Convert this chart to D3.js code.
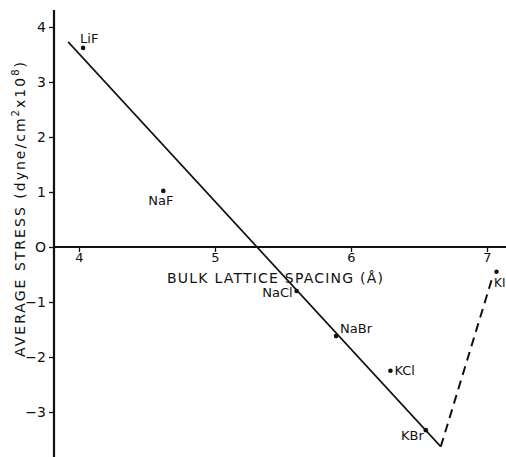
<!DOCTYPE html>
<html>
<head>
<meta charset="utf-8">
<script src="https://cdn.jsdelivr.net/npm/d3@7"></script>
<style>
  body { margin: 0; background: #fff; }
  text { font-family: "DejaVu Sans", sans-serif; fill: #111; }
</style>
</head>
<body>
<div id="chart"></div>
<script>
// crystals and their measured points
var crystals = ["LiF", "NaF", "NaCl", "NaBr", "KCl", "KBr", "KI"];
var spacing = [4.03, 4.62, 5.60, 5.89, 6.29, 6.55, 7.07];
var stress = [3.62, 1.02, -0.80, -1.62, -2.25, -3.33, -0.45];

// fitted line (solid) and the dashed return to KI
var fitX = [3.92, 6.66];
var fitY = [3.73, -3.63];
var dashX = [6.66, 7.04];
var dashY = [-3.63, -0.55];

var xTicks = [4, 5, 6, 7];
var yTicks = [-3, -2, -1, 0, 1, 2, 3, 4];
var yTickLabels = ["\u22123", "\u22122", "\u22121", "O", "1", "2", "3", "4"];

var svgWidth = 506;
var svgHeight = 457;
var axisX = 54;

var svg = d3.select("#chart")
  .append("svg")
  .attr("width", svgWidth)
  .attr("height", svgHeight);

var x = d3.scaleLinear().domain([4, 7]).range([79, 487]);
var y = d3.scaleLinear().domain([-3, 4]).range([412, 27]);

// axis lines
svg.append("line")
  .attr("x1", axisX).attr("x2", axisX)
  .attr("y1", 10).attr("y2", svgHeight)
  .attr("stroke", "#111").attr("stroke-width", 2.2);

svg.append("line")
  .attr("x1", axisX).attr("x2", svgWidth)
  .attr("y1", y(0)).attr("y2", y(0))
  .attr("stroke", "#111").attr("stroke-width", 2);

// x axis ticks
var xAxis = d3.axisBottom(x)
  .tickValues(xTicks)
  .tickSize(5)
  .tickPadding(1)
  .tickFormat(d3.format("d"));

var xg = svg.append("g")
  .attr("transform", "translate(0," + y(0) + ")")
  .call(xAxis);
xg.select(".domain").remove();
xg.selectAll("line").attr("stroke", "#111").attr("stroke-width", 1.3);
xg.selectAll("text")
  .style("font-family", "DejaVu Sans, sans-serif")
  .style("font-size", "13px")
  .attr("fill", "#111");

// y axis ticks
var yAxis = d3.axisLeft(y)
  .tickValues(yTicks)
  .tickSize(5)
  .tickPadding(3)
  .tickFormat(function(d, i) { return yTickLabels[i]; });

var yg = svg.append("g")
  .attr("transform", "translate(" + axisX + ",0)")
  .call(yAxis);
yg.select(".domain").remove();
yg.selectAll("line").attr("stroke", "#111").attr("stroke-width", 1.3);
yg.selectAll("text")
  .style("font-family", "DejaVu Sans, sans-serif")
  .style("font-size", "14px")
  .attr("fill", "#111");

// axis titles
svg.append("text")
  .attr("x", 167)
  .attr("y", 283)
  .style("font-size", "14px")
  .attr("textLength", 216)
  .text("BULK LATTICE SPACING (\u00c5)");

var yTitle = svg.append("text")
  .attr("transform", "translate(25,357)rotate(-90)")
  .style("font-size", "14px")
  .attr("textLength", 295);
yTitle.append("tspan").text("AVERAGE STRESS (dyne/cm");
yTitle.append("tspan").attr("dy", -6).style("font-size", "10px").text("2");
yTitle.append("tspan").attr("dy", 6).text("x10");
yTitle.append("tspan").attr("dy", -6).style("font-size", "10px").text("8");
yTitle.append("tspan").attr("dy", 6).text(")");

// lines
var line = d3.line()
  .x(function(d) { return x(d[0]); })
  .y(function(d) { return y(d[1]); });

svg.append("path")
  .datum(d3.zip(fitX, fitY))
  .attr("d", line)
  .attr("fill", "none")
  .attr("stroke", "#111")
  .attr("stroke-width", 1.6);

svg.append("path")
  .datum(d3.zip(dashX, dashY))
  .attr("d", line)
  .attr("fill", "none")
  .attr("stroke", "#111")
  .attr("stroke-width", 2)
  .attr("stroke-dasharray", "9,6");

// points
var points = crystals.map(function(c, i) {
  return { name: c, sx: spacing[i], sy: stress[i] };
});

svg.selectAll(".dot")
  .data(points)
  .enter()
  .append("circle")
  .attr("class", "dot")
  .attr("cx", function(d) { return x(d.sx); })
  .attr("cy", function(d) { return y(d.sy); })
  .attr("r", 2.3)
  .attr("fill", "#111");

// label offsets relative to each dot
var labelPos = {
  LiF: [-3, -5, "start"],
  NaF: [-15, 14, "start"],
  NaCl: [-4, 6, "end"],
  NaBr: [4, -3, "start"],
  KCl: [4, 4, "start"],
  KBr: [-2, 10, "end"],
  KI: [9, 15, "end"]
};

svg.selectAll(".lbl")
  .data(points)
  .enter()
  .append("text")
  .attr("class", "lbl")
  .attr("x", function(d) { return x(d.sx) + labelPos[d.name][0]; })
  .attr("y", function(d) { return y(d.sy) + labelPos[d.name][1]; })
  .attr("text-anchor", function(d) { return labelPos[d.name][2]; })
  .style("font-size", function(d) { return d.name === "KI" ? "12px" : "13px"; })
  .text(function(d) { return d.name; });
</script>
</body>
</html>
